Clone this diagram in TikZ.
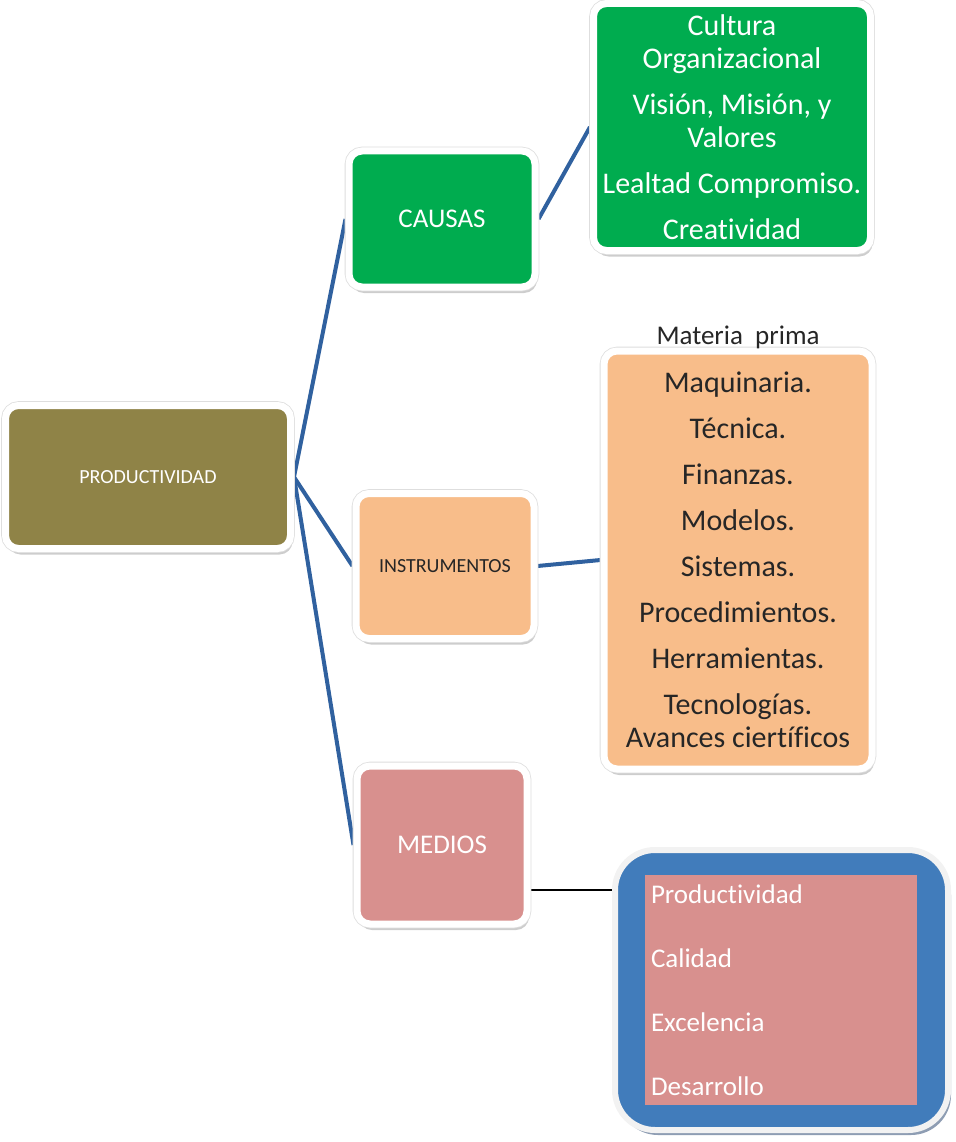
\documentclass[tikz,border=0pt]{standalone}
\usepackage{fontspec}
\setmainfont[RawFeature={-liga,-clig,-calt,-dlig}]{Carlito}
\usetikzlibrary{shadows,backgrounds}

\definecolor{cOlive}{HTML}{8F8347}
\definecolor{cGreen}{HTML}{00AC4F}
\definecolor{cPeach}{HTML}{F8BD8A}
\definecolor{cRose}{HTML}{D8908E}
\definecolor{cBlue}{HTML}{417CBB}
\definecolor{cLink}{HTML}{30619F}
\definecolor{cInk}{HTML}{262626}
\definecolor{cFrame}{HTML}{F2F2F2}
\definecolor{cShade}{HTML}{8E9DB3}

\begin{document}
\begin{tikzpicture}[x=1pt,y=-1pt,
  card/.style={rounded corners=13pt, draw=white, line width=7pt, inner sep=0pt,
    align=center, text=white,
    drop shadow={shadow xshift=2pt, shadow yshift=-6pt, opacity=0.28, fill=black!70},
    preaction={draw=black!13, line width=8.6pt}},
  link/.style={draw=cLink, line width=4pt},
  plainlink/.style={draw=black, line width=1.4pt},
  big/.style={font=\fontsize{30}{33}\selectfont},
  mid/.style={font=\fontsize{27}{30}\selectfont},
  small/.style={font=\fontsize{20}{24}\selectfont}
]
\useasboundingbox (0,0) rectangle (955,1142);

% main concept
\node[card, small, fill=cOlive, minimum width=285pt, minimum height=143pt]
  (prod) at (148,477) {PRODUCTIVIDAD};

% second level
\node[card, mid, fill=cGreen, minimum width=186pt, minimum height=136pt]
  (causas) at (442,219) {CAUSAS};
\node[card, small, fill=cPeach, text=cInk, minimum width=178pt, minimum height=145pt]
  (instr) at (445,566) {INSTRUMENTOS};
\node[card, mid, fill=cRose, minimum width=170pt, minimum height=158pt]
  (medios) at (442,845) {MEDIOS};

% causes
\node[card, big, fill=cGreen, minimum width=277pt, minimum height=247pt]
  (cultura) at (732,127)
  {Cultura\\Organizacional\\[13pt]Visión, Misión, y\\Valores\\[13pt]Lealtad Compromiso.\\[13pt]Creatividad};

% instruments
\node[card, big, fill=cPeach, text=cInk, minimum width=268pt, minimum height=418pt]
  (tools) at (738,560)
  {Maquinaria.\\[13pt]Técnica.\\[13pt]Finanzas.\\[13pt]Modelos.\\[13pt]Sistemas.\\[13pt]Procedimientos.\\[13pt]Herramientas.\\[13pt]Tecnologías.\\Avances ciertíficos};
\node[font=\fontsize{27}{30}\selectfont, text=cInk, inner sep=0pt]
  (materia) at (738,337) {Materia\ \ prima};

% means
\node[rounded corners=40pt, draw=cFrame, line width=6pt, fill=cBlue,
  minimum width=333pt, minimum height=280pt, inner sep=0pt,
  drop shadow={shadow xshift=3pt, shadow yshift=-5pt, opacity=1, fill=cShade}]
  (medframe) at (781.5,990) {};
\node[fill=cRose, text=white, minimum width=272pt, minimum height=230pt,
  text width=260pt, inner sep=6pt, align=left,
  font=\fontsize{27}{64}\selectfont]
  (medlist) at (781,990) {Productividad\\Calidad\\Excelencia\\Desarrollo};

\coordinate (mjoin) at ([yshift=-45pt]medios.east);

\begin{pgfonlayer}{background}
  \draw[link] (prod.east) -- (causas.west);
  \draw[link] (prod.east) -- (instr.west);
  \draw[link] (prod.east) -- (medios.west);
  \draw[link] (causas.east) -- (cultura.west);
  \draw[link] (instr.east) -- (tools.west);
  \draw[plainlink] (mjoin) -- (mjoin -| medframe.west);
\end{pgfonlayer}
\end{tikzpicture}
\end{document}
